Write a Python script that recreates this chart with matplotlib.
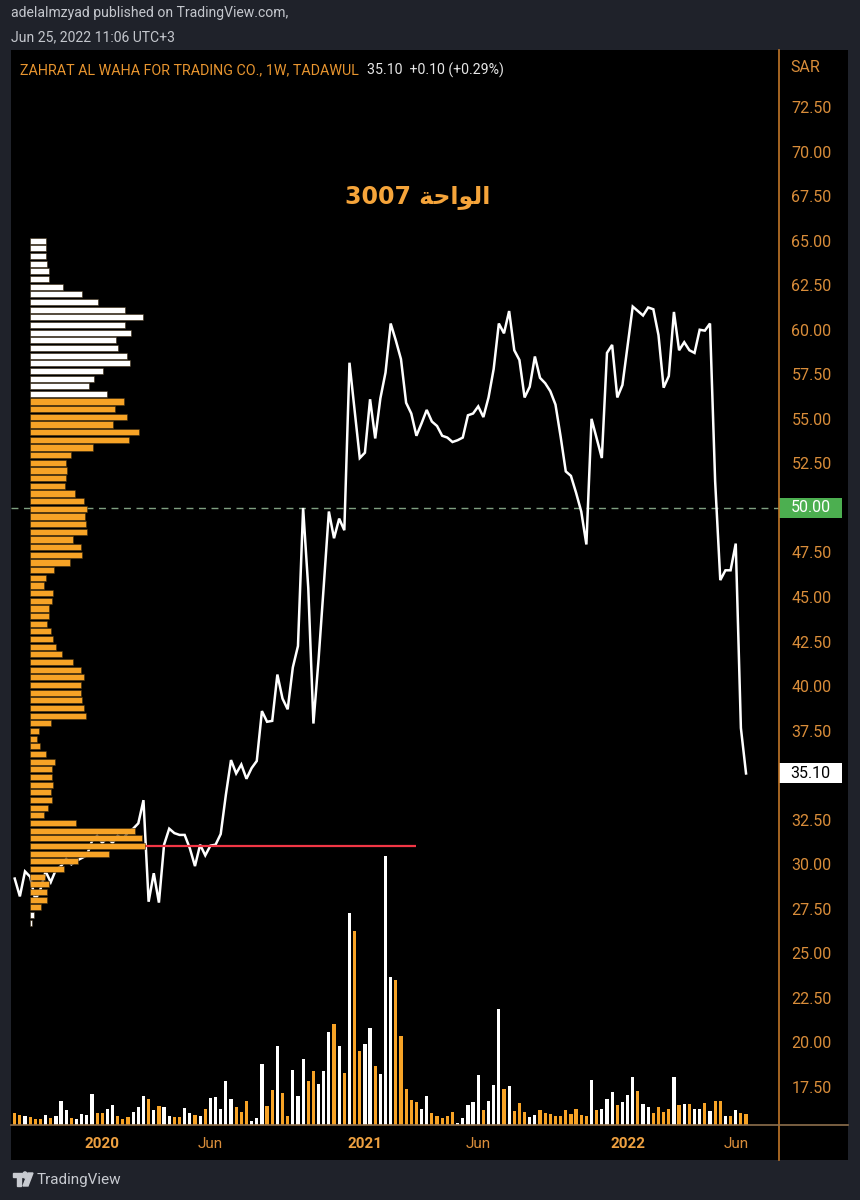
import numpy as np
import matplotlib.pyplot as plt
from matplotlib.patches import Rectangle, Polygon, Circle
from matplotlib.lines import Line2D
import matplotlib.transforms as mtransforms

# weekly closes (SAR), one per bar, oldest first
close = [29.2, 28.2, 29.6, 29.3, 28.0, 28.6, 29.6, 29.0, 29.7, 29.9,
         30.3, 30.0, 30.2, 30.35, 30.5, 31.3, 31.6, 31.2, 31.5, 31.2,
         31.6, 31.4, 31.8, 32.0, 32.3, 33.6, 27.9, 29.5, 27.85, 31.1,
         32.0, 31.75, 31.65, 31.65, 30.9, 29.9, 31.1, 30.5, 31.05, 31.1,
         31.7, 33.9, 35.85, 35.1, 35.6, 34.8, 35.4, 35.8, 38.6, 38.0,
         38.05, 40.65, 39.3, 38.7, 41.05, 42.25, 50.0, 45.5, 37.9, 41.5,
         45.6, 49.8, 48.3, 49.4, 48.75, 58.15, 55.5, 52.8, 53.1, 56.1,
         53.9, 56.15, 57.6, 60.35, 59.4, 58.35, 55.9, 55.3, 54.05, 54.75,
         55.5, 54.85, 54.6, 54.05, 53.95, 53.7, 53.8, 53.95, 55.2, 55.3,
         55.7, 55.1, 56.2, 57.8, 60.35, 59.8, 61.05, 58.85, 58.3, 56.2,
         56.8, 58.5, 57.3, 57.0, 56.55, 55.8, 54.0, 52.05, 51.8, 50.85,
         49.8, 47.95, 55.0, 53.9, 52.8, 58.7, 59.15, 56.2, 56.9, 59.1,
         61.3, 61.05, 60.8, 61.25, 61.15, 59.7, 56.75, 57.4, 61.0, 58.85,
         59.3, 58.85, 58.7, 60.0, 59.95, 60.35, 51.5, 45.95, 46.5, 46.5,
         48.0, 37.65, 35.1]

# weekly volume (relative units)
volume = [12, 10.3, 9.3, 8.3, 5.7, 5.7, 10.3, 7.3, 8.7, 24,
          15, 7, 6, 11, 9.7, 30.7, 11.7, 12, 15.7, 20,
          9.3, 6, 8.3, 13.3, 18.3, 29.3, 25.7, 15.3, 19, 18.3,
          9, 8, 8, 16.7, 12.3, 10.3, 9, 16, 26.7, 28.3,
          16, 43.7, 26.3, 17.7, 12.7, 24, 4.3, 6.7, 61, 19,
          35.3, 78.7, 32, 9.3, 55.3, 29, 66, 44, 53.7, 40.7,
          54, 93, 101, 79, 52, 211.7, 193.7, 74, 81, 97,
          59.3, 50.7, 268.3, 147.3, 144.3, 88.7, 36, 25, 22.7, 16,
          29.3, 11.7, 8.7, 7.3, 9, 13, 1.7, 7.3, 20.3, 22.7,
          50.3, 14.7, 24, 39.7, 116.3, 35.7, 39.3, 14, 22, 13,
          8.3, 10.3, 14.7, 12, 11, 9.3, 9.3, 14.7, 11.3, 15.7,
          10, 9.3, 45, 14.7, 16, 25.7, 33, 19.7, 23.3, 30,
          47.7, 34, 21.3, 18, 12, 18, 12.7, 16, 47.7, 20.3,
          20.7, 21.3, 16, 15.7, 22, 14, 24.3, 24.3, 9.3, 9.3,
          15.3, 12, 10.7]

# W = up week (white bar), O = down week (orange bar)
week_dir = ("OOWOOOWOWW" "WOWWWWOOWW" "OOOWWWOWOW" "WOOWWOWOWW" "WWWOOOWWWO"
            "OWOOWWWOOW" "WWOWOWOOWW" "OWWWOOOOOW" "WOOOOOWWWW" "WOWWWOWOOO"
            "WWOOOOOOOO" "OOWOWWWOWW" "WOWWOOOOWO" "WOWWOWOOWO" "WOO")

# visible-range volume profile, top row first
profile_top = 65.0
profile_step = 0.43
profile_volume = [15.7, 15.7, 15.7, 17.3, 19, 19, 33.3, 52.3, 68.3, 95,
                  113.3, 95.3, 101, 86.3, 87.7, 97.3, 100, 73, 63.7, 59,
                  76.7, 94, 85.3, 96.7, 83.3, 109.3, 99, 63, 41, 35.7,
                  37, 36, 35.3, 45.3, 54, 56.7, 55, 55.7, 56.7, 43,
                  51, 52.3, 40.3, 24, 16.3, 14, 23, 21.7, 19, 19,
                  16.7, 20.7, 22.7, 25.7, 31.7, 43, 51.3, 54.3, 51, 51.3,
                  51.7, 54, 56, 21, 9.3, 7.3, 10.3, 16, 25, 21.7,
                  21.7, 22.7, 21.3, 21.7, 17.7, 13.7, 46, 105, 111.7, 114.5,
                  79.3, 48.3, 34, 15, 19, 17.3, 16.7, 11, 4.3, 1.5]
value_area_rows = (21, 87)   # rows inside the value area (orange)

tick_bars = [17, 38, 68, 90, 119, 140]
tick_labels = ['2020', 'Jun', '2021', 'Jun', '2022', 'Jun']

level_line = 50.0            # dashed line with green label
poc_span = (24.9, 78)        # red point-of-control line, in bars

# colours
BG = '#1f222a'
ORANGE = '#f7a326'
AXIS_OR = '#d98d3a'
TITLE_OR = '#e8952f'
HEADER = '#c4c7cd'

W, H = 860, 1200
fx = lambda px: px / W
fy = lambda py: 1 - py / H

plt.rcParams['font.family'] = ['Roboto', 'DejaVu Sans']
fig = plt.figure(figsize=(8.6, 12), dpi=100, facecolor=BG)

# black chart panel
fig.patches.append(Rectangle((fx(11), fy(1160)), fx(848) - fx(11), fy(50) - fy(1160),
                             transform=fig.transFigure, facecolor='black',
                             edgecolor='none', zorder=-10))

ax = fig.add_axes([fx(11), fy(1125), fx(779) - fx(11), fy(50) - fy(1125)])
n = len(close)
xs = np.arange(n)
ax.set_xlim(-0.72, 148.4)
ax.set_ylim(15.37, 75.7)
ax.patch.set_visible(False)
for s in ax.spines.values():
    s.set_visible(False)

# volume pane
ax_vol = ax.twinx()
vol_colors = ['white' if d == 'W' else ORANGE for d in week_dir]
ax_vol.bar(xs, volume, width=0.62, color=vol_colors, linewidth=0)
ax_vol.set_ylim(0, max(volume) * 4.0)
ax_vol.axis('off')

# price line
ax.plot(xs, close, color='white', lw=1.8, solid_joinstyle='miter', zorder=3)
ax.axhline(level_line, color='#7f9f80', lw=1, dashes=(5, 4), zorder=2)
ax.hlines(profile_top - profile_step * int(np.argmax(profile_volume)), poc_span[0], poc_span[1],
          color='#f23645', lw=1.6, zorder=4)

# volume profile on the left
ax_prof = ax.twiny()
rows = np.arange(len(profile_volume))
row_price = profile_top - rows * profile_step
row_colors = [ORANGE if value_area_rows[0] <= r <= value_area_rows[1] else 'white' for r in rows]
ax_prof.barh(row_price, profile_volume, height=profile_step * 0.8, color=row_colors,
             edgecolor='#3a2a10', linewidth=0.4)
span = max(profile_volume) / 0.149
ax_prof.set_xlim(-0.025 * span, 0.975 * span)
ax_prof.axis('off')

ax_vol.set_zorder(1)
ax.set_zorder(2)
ax_prof.set_zorder(3)

# price scale
yt = [v for v in np.arange(17.5, 72.6, 2.5) if abs(v - 35.0) > 0.01 and abs(v - 50.0) > 0.01]
ax.yaxis.tick_right()
ax.set_yticks(yt)
ax.set_yticklabels([f'{v:.2f}' for v in yt])
ax.tick_params(axis='y', length=0, pad=9, labelcolor=AXIS_OR, labelsize=11.5)

ax.set_xticks(tick_bars)
ax.set_xticklabels(tick_labels)
ax.tick_params(axis='x', length=0, pad=9, labelcolor=AXIS_OR, labelsize=11)
for lab, t in zip(ax.get_xticklabels(), tick_labels):
    if t.isdigit():
        lab.set_fontweight('bold')
        lab.set_color('#eea040')

# price labels on the scale
blend = mtransforms.blended_transform_factory(ax.transAxes, ax.transData)
box_w = 63 / 768
box_h = 20 / 17.82
ax.add_patch(Rectangle((1.0, level_line - box_h / 2), box_w, box_h, transform=blend,
                       facecolor='#4caf50', edgecolor='none', clip_on=False, zorder=5))
ax.text(1.0 + box_w / 2, level_line, f'{level_line:.2f}', transform=blend, ha='center',
        va='center', color='white', fontsize=11.5, zorder=6, clip_on=False)
ax.add_patch(Rectangle((1.0, close[-1] - box_h / 2), box_w, box_h, transform=blend,
                       facecolor='white', edgecolor='none', clip_on=False, zorder=5))
ax.text(1.0 + box_w / 2, close[-1], f'{close[-1]:.2f}', transform=blend, ha='center',
        va='center', color='black', fontsize=11.5, zorder=6, clip_on=False)

# scale borders
fig.lines.append(Line2D([fx(779), fx(779)], [fy(50), fy(1160)], transform=fig.transFigure,
                        color='#c17628', lw=1.2))
fig.lines.append(Line2D([fx(11), fx(848)], [fy(1125), fy(1125)], transform=fig.transFigure,
                        color='#8d6f4c', lw=1.2))

fig.text(fx(790), fy(67), 'SAR', color=AXIS_OR, fontsize=11.5, va='center', ha='left')

# headers
fig.text(fx(11), fy(13), 'adelalmzyad published on TradingView.com,', color=HEADER,
         fontsize=10.1, va='center')
fig.text(fx(11), fy(37), 'Jun 25, 2022 11:06 UTC+3', color=HEADER, fontsize=10.1, va='center')
fig.text(fx(20), fy(70), 'ZAHRAT AL WAHA FOR TRADING CO., 1W, TADAWUL', color=TITLE_OR,
         fontsize=10.3, va='center')
fig.text(fx(367), fy(70), f'{close[-1]:.2f}  +0.10 (+0.29%)', color='#e6e6e6',
         fontsize=10.2, va='center')

# note text on the chart (Arabic word shaped, display order)
arabic_word = '\uFE94\uFEA3\uFE8D\uFEEE\uFEDF\uFE8D'
fig.text(fx(418), fy(197), '3007 ' + arabic_word, color='#f5a43a', fontsize=17,
         fontweight='bold', ha='center', va='center', family=['DejaVu Sans'])

# footer logo + name
fig.patches.append(Rectangle((fx(13), fy(1177)), fx(9) - fx(0), fy(0) - fy(4),
                             transform=fig.transFigure, color='#c8cbd1'))
fig.patches.append(Rectangle((fx(17), fy(1186)), fx(4) - fx(0), fy(0) - fy(9),
                             transform=fig.transFigure, color='#c8cbd1'))
fig.patches.append(Circle((fx(25), fy(1175)), 2.2 / W, transform=fig.transFigure,
                          color='#c8cbd1'))
fig.patches.append(Polygon([(fx(28), fy(1173)), (fx(33), fy(1173)), (fx(28), fy(1186)),
                            (fx(23), fy(1186))], closed=True, transform=fig.transFigure,
                           color='#c8cbd1'))
fig.text(fx(37), fy(1180), 'TradingView', color='#c8cbd1', fontsize=11, va='center')

fig.savefig('out.png', dpi=100, facecolor=BG)
